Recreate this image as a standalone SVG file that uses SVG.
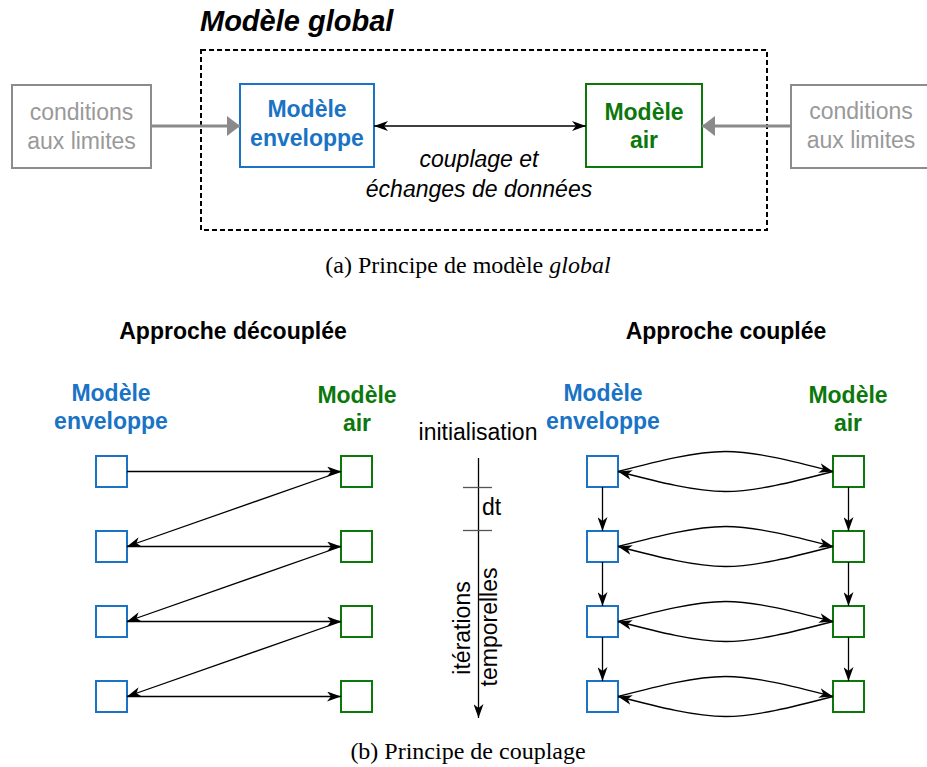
<svg xmlns="http://www.w3.org/2000/svg" width="927" height="767" viewBox="0 0 927 767">
<style>
.t{font-family:"Liberation Sans",Arial,Helvetica,sans-serif;font-size:23px}
.c{text-anchor:middle}
.bd{font-weight:bold}
.it{font-style:italic}
.blue{fill:#1a73c4}
.green{fill:#0c780c}
.grayt{fill:#999999}
.cap{font-family:"Liberation Serif","Times New Roman",serif;font-size:24px;text-anchor:middle;fill:#000}
.bb{fill:#fff;stroke:#1a73c4;stroke-width:2}
.gb{fill:#fff;stroke:#0c780c;stroke-width:2}
.cb{fill:#fff;stroke:#8c8c8c;stroke-width:2}
.ln{fill:none;stroke:#000;stroke-width:1.3}
.gl{fill:none;stroke:#8a8a8a;stroke-width:3}
</style>
<defs>
<marker id="arr" viewBox="0 0 14 10" refX="14" refY="5" markerWidth="14" markerHeight="10" markerUnits="userSpaceOnUse" orient="auto-start-reverse">
<path d="M0,0 L14,5 L0,10 L4,5 Z" fill="#000"/>
</marker>
<marker id="garr" viewBox="0 0 13 20" refX="13" refY="10" markerWidth="13" markerHeight="20" markerUnits="userSpaceOnUse" orient="auto">
<path d="M0,0 L13,10 L0,20 Z" fill="#8a8a8a"/>
</marker>
</defs>

<text class="t bd it" x="200" y="31" style="font-size:29px">Modèle global</text>
<rect x="201" y="50" width="566" height="180" fill="none" stroke="#000" stroke-width="2" stroke-dasharray="5,3"/>

<g id="cond-left">
<rect class="cb" x="12" y="85" width="139" height="83"/>
<text class="t c grayt" x="81.5" y="120">conditions</text>
<text class="t c grayt" x="81.5" y="149">aux limites</text>
</g>
<g id="cond-right">
<rect class="cb" x="791" y="85" width="139" height="83"/>
<text class="t c grayt" x="861" y="119">conditions</text>
<text class="t c grayt" x="861" y="148">aux limites</text>
</g>
<g id="env-top">
<rect class="bb" x="240" y="84" width="134" height="83"/>
<text class="t c bd blue" x="307" y="117">Modèle</text>
<text class="t c bd blue" x="307" y="146">enveloppe</text>
</g>
<g id="air-top">
<rect class="gb" x="586" y="84" width="116" height="83"/>
<text class="t c bd green" x="644" y="120">Modèle</text>
<text class="t c bd green" x="644" y="148">air</text>
</g>

<g id="connectors-top">
<line class="gl" x1="151" y1="126" x2="240" y2="126" marker-end="url(#garr)"/>
<line class="gl" x1="791" y1="126" x2="702" y2="126" marker-end="url(#garr)"/>
<line class="ln" x1="374" y1="126" x2="586" y2="126" marker-start="url(#arr)" marker-end="url(#arr)"/>
</g>
<text class="t c it" x="479" y="167">couplage et</text>
<text class="t c it" x="479" y="197">échanges de données</text>

<text class="cap" x="468" y="273">(a) Principe de modèle <tspan font-style="italic">global</tspan></text>

<text class="t c bd" x="233" y="339">Approche découplée</text>
<text class="t c bd" x="726" y="339">Approche couplée</text>

<text class="t c bd blue" x="111" y="401">Modèle</text>
<text class="t c bd blue" x="111" y="429">enveloppe</text>
<text class="t c bd green" x="357" y="403">Modèle</text>
<text class="t c bd green" x="357" y="431">air</text>
<text class="t c bd blue" x="603" y="401">Modèle</text>
<text class="t c bd blue" x="603" y="429">enveloppe</text>
<text class="t c bd green" x="848" y="403">Modèle</text>
<text class="t c bd green" x="848" y="431">air</text>

<g id="dec-nodes">
<rect id="dE1" class="bb" x="96" y="456" width="31" height="31"/>
<rect id="dE2" class="bb" x="96" y="531" width="31" height="31"/>
<rect id="dE3" class="bb" x="96" y="606" width="31" height="31"/>
<rect id="dE4" class="bb" x="96" y="681" width="31" height="31"/>
<rect id="dA1" class="gb" x="341" y="456" width="31" height="31"/>
<rect id="dA2" class="gb" x="341" y="531" width="31" height="31"/>
<rect id="dA3" class="gb" x="341" y="606" width="31" height="31"/>
<rect id="dA4" class="gb" x="341" y="681" width="31" height="31"/>
</g>
<g id="cpl-nodes">
<rect id="cE1" class="bb" x="587" y="456" width="31" height="31"/>
<rect id="cE2" class="bb" x="587" y="531" width="31" height="31"/>
<rect id="cE3" class="bb" x="587" y="606" width="31" height="31"/>
<rect id="cE4" class="bb" x="587" y="681" width="31" height="31"/>
<rect id="cA1" class="gb" x="833" y="456" width="31" height="31"/>
<rect id="cA2" class="gb" x="833" y="531" width="31" height="31"/>
<rect id="cA3" class="gb" x="833" y="606" width="31" height="31"/>
<rect id="cA4" class="gb" x="833" y="681" width="31" height="31"/>
</g>

<g id="connectors">
<line class="ln" x1="127" y1="471.5" x2="341" y2="471.5" marker-end="url(#arr)"/>
<line class="ln" x1="127" y1="546.5" x2="341" y2="546.5" marker-end="url(#arr)"/>
<line class="ln" x1="127" y1="621.5" x2="341" y2="621.5" marker-end="url(#arr)"/>
<line class="ln" x1="127" y1="696.5" x2="341" y2="696.5" marker-end="url(#arr)"/>
<line class="ln" x1="341" y1="471.5" x2="127" y2="546.5" marker-end="url(#arr)"/>
<line class="ln" x1="341" y1="546.5" x2="127" y2="621.5" marker-end="url(#arr)"/>
<line class="ln" x1="341" y1="621.5" x2="127" y2="696.5" marker-end="url(#arr)"/>

<path class="ln" d="M618,471.5 C658,461.1 695,451.5 725.5,451.5 C756,451.5 793,461.1 833,471.5" marker-end="url(#arr)"/>
<path class="ln" d="M833,471.5 C793,481.9 756,491.5 725.5,491.5 C695,491.5 658,481.9 618,471.5" marker-end="url(#arr)"/>
<path class="ln" d="M618,546.5 C658,536.1 695,526.5 725.5,526.5 C756,526.5 793,536.1 833,546.5" marker-end="url(#arr)"/>
<path class="ln" d="M833,546.5 C793,556.9 756,566.5 725.5,566.5 C695,566.5 658,556.9 618,546.5" marker-end="url(#arr)"/>
<path class="ln" d="M618,621.5 C658,611.1 695,601.5 725.5,601.5 C756,601.5 793,611.1 833,621.5" marker-end="url(#arr)"/>
<path class="ln" d="M833,621.5 C793,631.9 756,641.5 725.5,641.5 C695,641.5 658,631.9 618,621.5" marker-end="url(#arr)"/>
<path class="ln" d="M618,696.5 C658,686.1 695,676.5 725.5,676.5 C756,676.5 793,686.1 833,696.5" marker-end="url(#arr)"/>
<path class="ln" d="M833,696.5 C793,706.9 756,716.5 725.5,716.5 C695,716.5 658,706.9 618,696.5" marker-end="url(#arr)"/>

<line class="ln" x1="602.5" y1="487" x2="602.5" y2="531" marker-end="url(#arr)"/>
<line class="ln" x1="602.5" y1="562" x2="602.5" y2="606" marker-end="url(#arr)"/>
<line class="ln" x1="602.5" y1="637" x2="602.5" y2="681" marker-end="url(#arr)"/>
<line class="ln" x1="848.5" y1="487" x2="848.5" y2="531" marker-end="url(#arr)"/>
<line class="ln" x1="848.5" y1="562" x2="848.5" y2="606" marker-end="url(#arr)"/>
<line class="ln" x1="848.5" y1="637" x2="848.5" y2="681" marker-end="url(#arr)"/>
</g>

<g id="timeline">
<text class="t c" x="478" y="440">initialisation</text>
<line class="ln" x1="478.5" y1="458" x2="478.5" y2="718" marker-end="url(#arr)"/>
<line x1="463" y1="487.5" x2="492" y2="487.5" stroke="#555" stroke-width="1.3"/>
<line x1="463" y1="530.5" x2="492" y2="530.5" stroke="#555" stroke-width="1.3"/>
<text class="t" x="482" y="515">dt</text>
<text class="t c" transform="translate(470,628) rotate(-90)">itérations</text>
<text class="t c" transform="translate(497,627) rotate(-90)">temporelles</text>
</g>

<text class="cap" x="468" y="759">(b) Principe de couplage</text>
</svg>
